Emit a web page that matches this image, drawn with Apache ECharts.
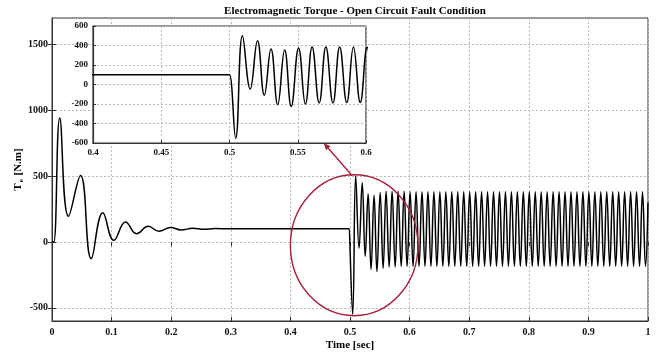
<!DOCTYPE html>
<html><head><meta charset="utf-8">
<script src="https://cdn.jsdelivr.net/npm/echarts@6/dist/echarts.min.js"></script>
<style>html,body{margin:0;padding:0;background:#fff}#c{width:660px;height:354px}</style>
</head><body><div id="c"></div><script>
// --- data ---
const startTimes  = [0, 0.003, 0.013, 0.0277, 0.0479, 0.0658, 0.0853, 0.1038, 0.1234, 0.142, 0.1615, 0.1794, 0.199, 0.217, 0.236, 0.255, 0.274, 0.3, 0.4, 0.499];
const startValues = [0, 0, 940, 195, 505, -126, 222, 13, 152, 63, 119, 81, 109, 91, 104, 96, 102, 100, 100, 100];

const faultTimes  = [0.5, 0.5045, 0.5095, 0.5152, 0.5205, 0.5255, 0.5304, 0.5353, 0.5404, 0.5452,
                     0.5506, 0.5556, 0.5605, 0.5657, 0.5706, 0.5758, 0.5807, 0.5859, 0.5908];
const faultValues = [100, -550, 500, -47, 450, -109, 365, -208, 355, -225,
                     375, -200, 385, -190, 385, -190, 385, -185, 385];

const steadyTimes = [
  0.5958, 0.6008, 0.6058, 0.6108, 0.6158, 0.6208, 0.6258, 0.6308, 0.6358, 0.6408,
  0.6458, 0.6508, 0.6558, 0.6608, 0.6658, 0.6708, 0.6758, 0.6808, 0.6858, 0.6908,
  0.6958, 0.7008, 0.7058, 0.7108, 0.7158, 0.7208, 0.7258, 0.7308, 0.7358, 0.7408,
  0.7458, 0.7508, 0.7558, 0.7608, 0.7658, 0.7708, 0.7758, 0.7808, 0.7858, 0.7908,
  0.7958, 0.8008, 0.8058, 0.8108, 0.8158, 0.8208, 0.8258, 0.8308, 0.8358, 0.8408,
  0.8458, 0.8508, 0.8558, 0.8608, 0.8658, 0.8708, 0.8758, 0.8808, 0.8858, 0.8908,
  0.8958, 0.9008, 0.9058, 0.9108, 0.9158, 0.9208, 0.9258, 0.9308, 0.9358, 0.9408,
  0.9458, 0.9508, 0.9558, 0.9608, 0.9658, 0.9708, 0.9758, 0.9808, 0.9858, 0.9908,
  0.9958, 1.0];
const steadyValues = [
  -185, 382, -185, 382, -185, 382, -185, 382, -185, 382,
  -185, 382, -185, 382, -185, 382, -185, 382, -185, 382,
  -185, 382, -185, 382, -185, 382, -185, 382, -185, 382,
  -185, 382, -185, 382, -185, 382, -185, 382, -185, 382,
  -185, 382, -185, 382, -185, 382, -185, 382, -185, 382,
  -185, 382, -185, 382, -185, 382, -185, 382, -185, 382,
  -185, 382, -185, 382, -185, 382, -185, 382, -185, 382,
  -185, 382, -185, 382, -185, 382, -185, 382, -185, 382,
  -185, 300];

const mainYTicks  = [-500, 0, 500, 1000, 1500];
const titleText = 'Electromagnetic Torque - Open Circuit Fault Condition';
const xName = 'Time [sec]';

// --- build ---
const times = startTimes.concat(faultTimes, steadyTimes);
const vals  = startValues.concat(faultValues, steadyValues);
const data = times.map((t, i) => [t, vals[i]]);

const FF = 'Liberation Serif, Times New Roman, serif';
const plain = v => String(+v.toFixed(4));
const lbl = (size) => ({fontFamily: FF, fontWeight: 'bold', fontSize: size, color: '#111', formatter: plain});
const grid = '#b8b8b8';

const chart = echarts.init(document.getElementById('c'), null, {renderer: 'canvas'});
chart.setOption({
  animation: false,
  backgroundColor: '#fff',
  title: {text: titleText, left: 350, textAlign: 'center', top: 1,
          textStyle: {fontFamily: FF, fontWeight: 'bold', fontSize: 11, color: '#000'}},
  grid: [
    {left: 52, right: 12, top: 18, bottom: 33, outerBoundsMode: 'none', containLabel: false,
     show: true, borderColor: '#333', borderWidth: 1, backgroundColor: 'transparent'},
    {left: 93, top: 26, width: 273, height: 117, outerBoundsMode: 'none', containLabel: false,
     show: true, borderColor: '#333', borderWidth: 1.2, backgroundColor: '#fff', z: 10}
  ],
  xAxis: [
    {type: 'value', gridIndex: 0, min: 0, max: 1, interval: 0.1,
     axisLine: {show: true, onZero: false, lineStyle: {color: '#333', width: 1}},
     axisTick: {inside: true, length: 4, lineStyle: {color: '#333'}},
     axisLabel: Object.assign(lbl(10), {margin: 6}),
     splitLine: {show: true, lineStyle: {color: grid, type: [2, 2], width: 1}},
     name: xName, nameLocation: 'middle', nameGap: 19, nameMoveOverlap: false,
     nameTextStyle: {fontFamily: FF, fontWeight: 'bold', fontSize: 11, color: '#000'}},
    {type: 'value', gridIndex: 0, position: 'top', min: 0, max: 1, interval: 0.1,
     axisLine: {show: false}, axisTick: {inside: true, length: 4, lineStyle: {color: '#333'}},
     axisLabel: {show: false}, splitLine: {show: false}},
    {type: 'value', gridIndex: 1, min: 0.4, max: 0.6, interval: 0.05, z: 11,
     axisLine: {show: true, onZero: false, lineStyle: {color: '#333', width: 1.2}},
     axisTick: {inside: true, length: 3, lineStyle: {color: '#333'}},
     axisLabel: Object.assign(lbl(9), {margin: 5}),
     splitLine: {show: true, lineStyle: {color: grid, type: [2, 2], width: 1}}}
  ],
  yAxis: [
    {type: 'value', gridIndex: 0, min: -600, max: 1700,
     axisLine: {show: true, onZero: false, lineStyle: {color: '#333', width: 1}},
     axisTick: {inside: true, length: 4, customValues: mainYTicks, lineStyle: {color: '#333'}},
     axisLabel: Object.assign(lbl(10), {margin: 4, customValues: mainYTicks}),
     splitLine: {show: true, lineStyle: {color: grid, type: [2, 2], width: 1}},
     name: '{t|T}{s|e} [N.m]', nameLocation: 'middle', nameRotate: 90, nameGap: 27, nameMoveOverlap: false,
     nameTextStyle: {fontFamily: FF, fontWeight: 'bold', fontSize: 11, color: '#000',
       rich: {t: {fontFamily: FF, fontWeight: 'bold', fontSize: 11, color: '#000'},
              s: {fontFamily: FF, fontWeight: 'bold', fontSize: 7, color: '#000', padding: [6, 1, 0, 1]}}}},
    {type: 'value', gridIndex: 0, position: 'right', min: -600, max: 1700,
     axisLine: {show: false},
     axisTick: {inside: true, length: 4, customValues: mainYTicks, lineStyle: {color: '#333'}},
     axisLabel: {show: false, customValues: mainYTicks}, splitLine: {show: false}},
    {type: 'value', gridIndex: 1, min: -600, max: 600, interval: 200, z: 11,
     axisLine: {show: true, onZero: false, lineStyle: {color: '#333', width: 1.2}},
     axisTick: {inside: true, length: 3, lineStyle: {color: '#333'}},
     axisLabel: Object.assign(lbl(9), {margin: 5}),
     splitLine: {show: true, lineStyle: {color: grid, type: [2, 2], width: 1}}}
  ],
  series: [
    {type: 'line', xAxisIndex: 0, yAxisIndex: 0, data: data, showSymbol: false, symbol: 'none',
     smooth: 0.45, lineStyle: {color: '#000', width: 1.5}, z: 2},
    {type: 'line', xAxisIndex: 2, yAxisIndex: 2, data: data, showSymbol: false, symbol: 'none',
     smooth: 0.45, clip: true, lineStyle: {color: '#000', width: 1.5}, z: 12}
  ]
});

// annotation: ellipse around the fault region + arrow to the inset
const tl = chart.convertToPixel({gridIndex: 0}, [0.4, 510]);
const br = chart.convertToPixel({gridIndex: 0}, [0.614, -560]);
const cx = (tl[0] + br[0]) / 2, cy = (tl[1] + br[1]) / 2;
const rx = (br[0] - tl[0]) / 2, ry = (br[1] - tl[1]) / 2;
const tip = chart.convertToPixel({gridIndex: 1}, [0.569, -600]);
const start = [cx - 2, tl[1] + 1];
const dx = tip[0] - start[0], dy = tip[1] - start[1];
const L = Math.hypot(dx, dy), ux = dx / L, uy = dy / L;
const hl = 7, hw = 3;
const base = [tip[0] - ux * hl, tip[1] - uy * hl];
const red = '#a8203c';
chart.setOption({
  graphic: [
    {type: 'ellipse', z: 20, shape: {cx: cx, cy: cy, rx: rx, ry: ry},
     style: {fill: 'none', stroke: red, lineWidth: 1.4}},
    {type: 'line', z: 20, shape: {x1: start[0], y1: start[1], x2: base[0], y2: base[1]},
     style: {stroke: red, lineWidth: 1.4}},
    {type: 'polygon', z: 20, shape: {points: [tip, [base[0] - uy * hw, base[1] + ux * hw], [base[0] + uy * hw, base[1] - ux * hw]]},
     style: {fill: red}}
  ]
});
</script></body></html>
